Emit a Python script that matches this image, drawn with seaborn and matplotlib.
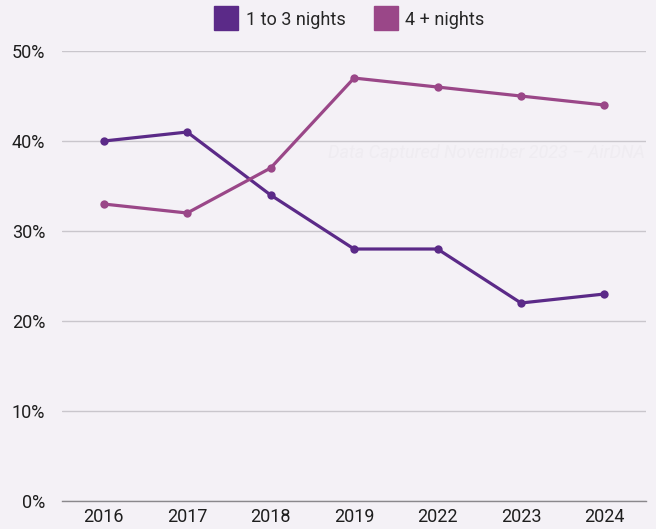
import numpy as np
import pandas as pd
import matplotlib.pyplot as plt
import seaborn as sns
from matplotlib.lines import Line2D

years = ["2016", "2017", "2018", "2019", "2022", "2023", "2024"]
short_stay = [40, 41, 34, 28, 28, 22, 23]
long_stay = [33, 32, 37, 47, 46, 45, 44]
series_names = ["1 to 3 nights", "4 + nights"]
colors = ["#5b2a88", "#9a4788"]
bg = "#f4f1f6"

df = pd.DataFrame({
    "year": years * 2,
    "share": short_stay + long_stay,
    "stay": [series_names[0]] * len(years) + [series_names[1]] * len(years),
})

sns.set_theme(style="white")
plt.rcParams["font.family"] = ["Roboto", "DejaVu Sans"]

fig = plt.figure(figsize=(6.56, 5.29), dpi=100, facecolor=bg)
ax = fig.add_axes([0.0945, 0.053, 0.8905, 0.8505])
ax.set_facecolor(bg)

sns.lineplot(data=df, x="year", y="share", hue="stay", palette=colors,
             sort=False, marker="o", markersize=6, markeredgewidth=0,
             linewidth=2.3, legend=False, ax=ax)

ax.set_xlim(-0.5, len(years) - 0.5)
ax.set_ylim(0, 50)
ax.set_yticks(np.arange(0, 51, 10))
ax.set_yticklabels([f"{v}%" for v in range(0, 51, 10)])
ax.yaxis.grid(True, color="#c9c6cc", linewidth=1)
ax.set_axisbelow(True)
for s in ["top", "right", "left"]:
    ax.spines[s].set_visible(False)
ax.spines["bottom"].set_color("#8a888c")
ax.spines["bottom"].set_linewidth(1)
ax.tick_params(axis="both", length=0, labelsize=13, colors="#1e1e1e")
ax.tick_params(axis="y", pad=12)
ax.tick_params(axis="x", pad=5)
ax.set_xlabel("")
ax.set_ylabel("")

# faint watermark
ax.text(0.998, 0.773, "Data Captured November 2023 \u2013 AirDNA", transform=ax.transAxes,
        ha="right", va="center", fontsize=13, style="italic", color="#efecf1")

handles = [Line2D([], [], linestyle="none", marker="s", markersize=17,
                  markerfacecolor=c, markeredgecolor=c) for c in colors]
fig.legend(handles, series_names, loc="center", bbox_to_anchor=(0.535, 0.963),
           ncol=2, frameon=False, fontsize=13, handletextpad=0.6,
           columnspacing=1.7, handlelength=1.0)

fig.savefig("out.png", dpi=100, facecolor=bg)
